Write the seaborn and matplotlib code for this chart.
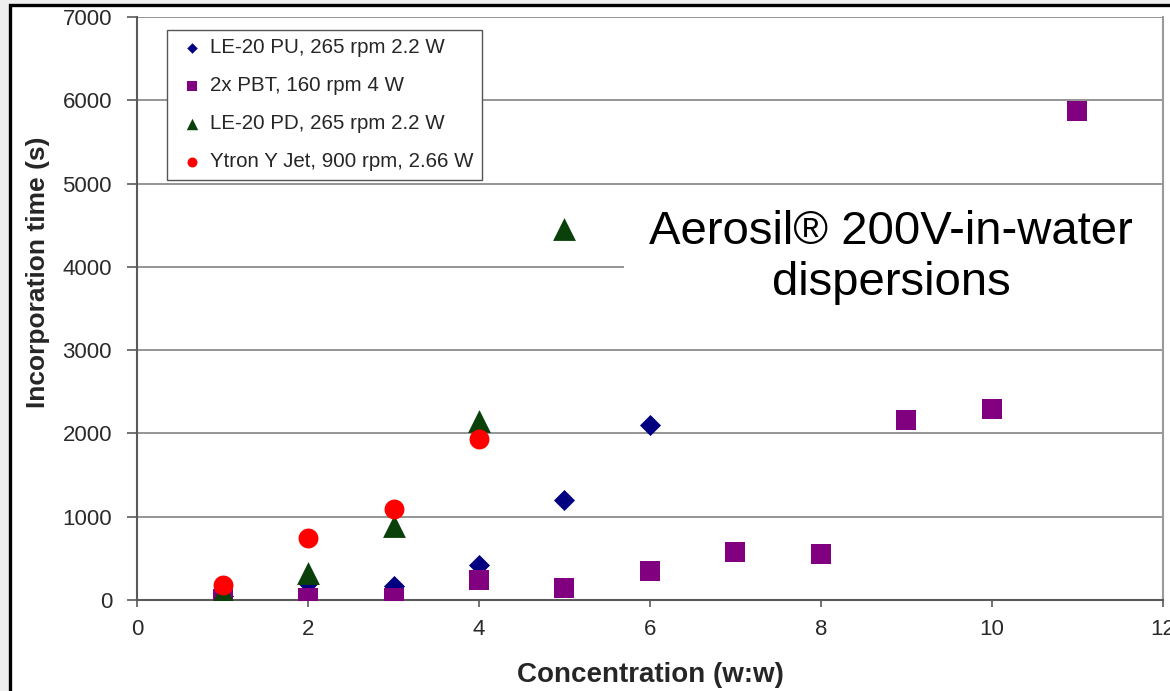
import numpy as np
import pandas as pd
import matplotlib
matplotlib.use("Agg")
import matplotlib.pyplot as plt
import seaborn as sns
from matplotlib.patches import Rectangle

# series (concentration w:w, incorporation time s)
labels = ["LE-20 PU, 265 rpm 2.2 W", "2x PBT, 160 rpm 4 W",
          "LE-20 PD, 265 rpm 2.2 W", "Ytron Y Jet, 900 rpm, 2.66 W"]
x_pu = [1, 2, 3, 4, 5, 6]
y_pu = [50, 200, 170, 420, 1200, 2100]
x_pbt = [1, 2, 3, 4, 5, 6, 7, 8, 9, 10, 11]
y_pbt = [10, 20, 20, 240, 140, 350, 580, 550, 2160, 2290, 5870]
x_pd = [1, 2, 3, 4, 5]
y_pd = [90, 320, 890, 2150, 4460]
x_yj = [1, 2, 3, 4]
y_yj = [180, 740, 1090, 1930]

colors = ["#000080", "#800080", "#0a400a", "#ff0000"]
markers = ["D", "s", "^", "o"]
sizes = [115, 225, 270, 205]

x_ticks = [0, 2, 4, 6, 8, 10, 12]
y_ticks = [0, 1000, 2000, 3000, 4000, 5000, 6000, 7000]

sns.set_style("white")
plt.rcParams["font.family"] = ["Liberation Sans", "DejaVu Sans"]

fig = plt.figure(figsize=(11.7, 6.91), dpi=100, facecolor="#efefef")
# white slide panel with black frame (behind the axes)
fig.patches.append(Rectangle((10 / 1170, -0.1), 1.2, 0.99276 + 0.1,
                             transform=fig.transFigure, facecolor="white",
                             edgecolor="black", linewidth=2.4, zorder=-5))
ax = fig.add_axes([0.1171, 0.1317, 0.9940 - 0.1171, 0.9754 - 0.1317])
ax.set_zorder(1)
ax.set_facecolor("white")

series = [(x_pu, y_pu), (x_pbt, y_pbt), (x_pd, y_pd), (x_yj, y_yj)]
for (xs, ys), lab, c, m, s in zip(series, labels, colors, markers, sizes):
    df = pd.DataFrame({"x": xs, "y": ys})
    sns.scatterplot(data=df, x="x", y="y", ax=ax, color=c, marker=m, s=s,
                    linewidth=0, label=lab, zorder=3)

ax.set_xlim(0, 12)
ax.set_ylim(0, 7000)
ax.set_xticks(x_ticks)
ax.set_yticks(y_ticks)
ax.grid(axis="y", color="#8c8c8c", linewidth=1.3)
ax.grid(axis="x", visible=False)
ax.set_axisbelow(True)

for side in ["left", "bottom"]:
    ax.spines[side].set_color("#5a5a5a")
    ax.spines[side].set_linewidth(1.5)
ax.spines["right"].set_color("#9a9a9a")
ax.spines["right"].set_linewidth(1.5)
ax.spines["top"].set_visible(False)

ax.tick_params(axis="y", direction="out", length=7, width=1.2, color="#5a5a5a",
               pad=11, labelsize=16, labelcolor="#2a2a2a", left=True)
ax.tick_params(axis="x", direction="out", length=5, width=1.2, color="#5a5a5a",
               pad=9, labelsize=16, labelcolor="#2a2a2a", bottom=True)

ax.set_xlabel("Concentration (w:w)", fontsize=20, fontweight="bold")
ax.set_ylabel("Incorporation time (s)", fontsize=19, fontweight="bold")
ax.xaxis.set_label_coords(0.5, -0.106)
ax.yaxis.set_label_coords(-0.085, 0.563)

leg = ax.legend(loc="upper left", bbox_to_anchor=(0.029, 0.978), fontsize=14.8,
                markerscale=0.5, frameon=True, fancybox=False, framealpha=1,
                edgecolor="#555555", borderpad=0.42, labelspacing=0.92,
                handlelength=1.6, handletextpad=0.1, borderaxespad=0)
leg.get_frame().set_linewidth(1.0)

# annotation box over the upper-right part of the plot
ax.add_patch(Rectangle((0.4747, 0.49), 0.5253, 0.216, transform=ax.transAxes,
                       facecolor="white", edgecolor="none", zorder=2))
ax.text(0.735, 0.588, "Aerosil® 200V-in-water\ndispersions", transform=ax.transAxes,
        ha="center", va="center", fontsize=34, color="black", linespacing=1.2,
        zorder=4)

fig.savefig("out.png", dpi=100, facecolor=fig.get_facecolor())
